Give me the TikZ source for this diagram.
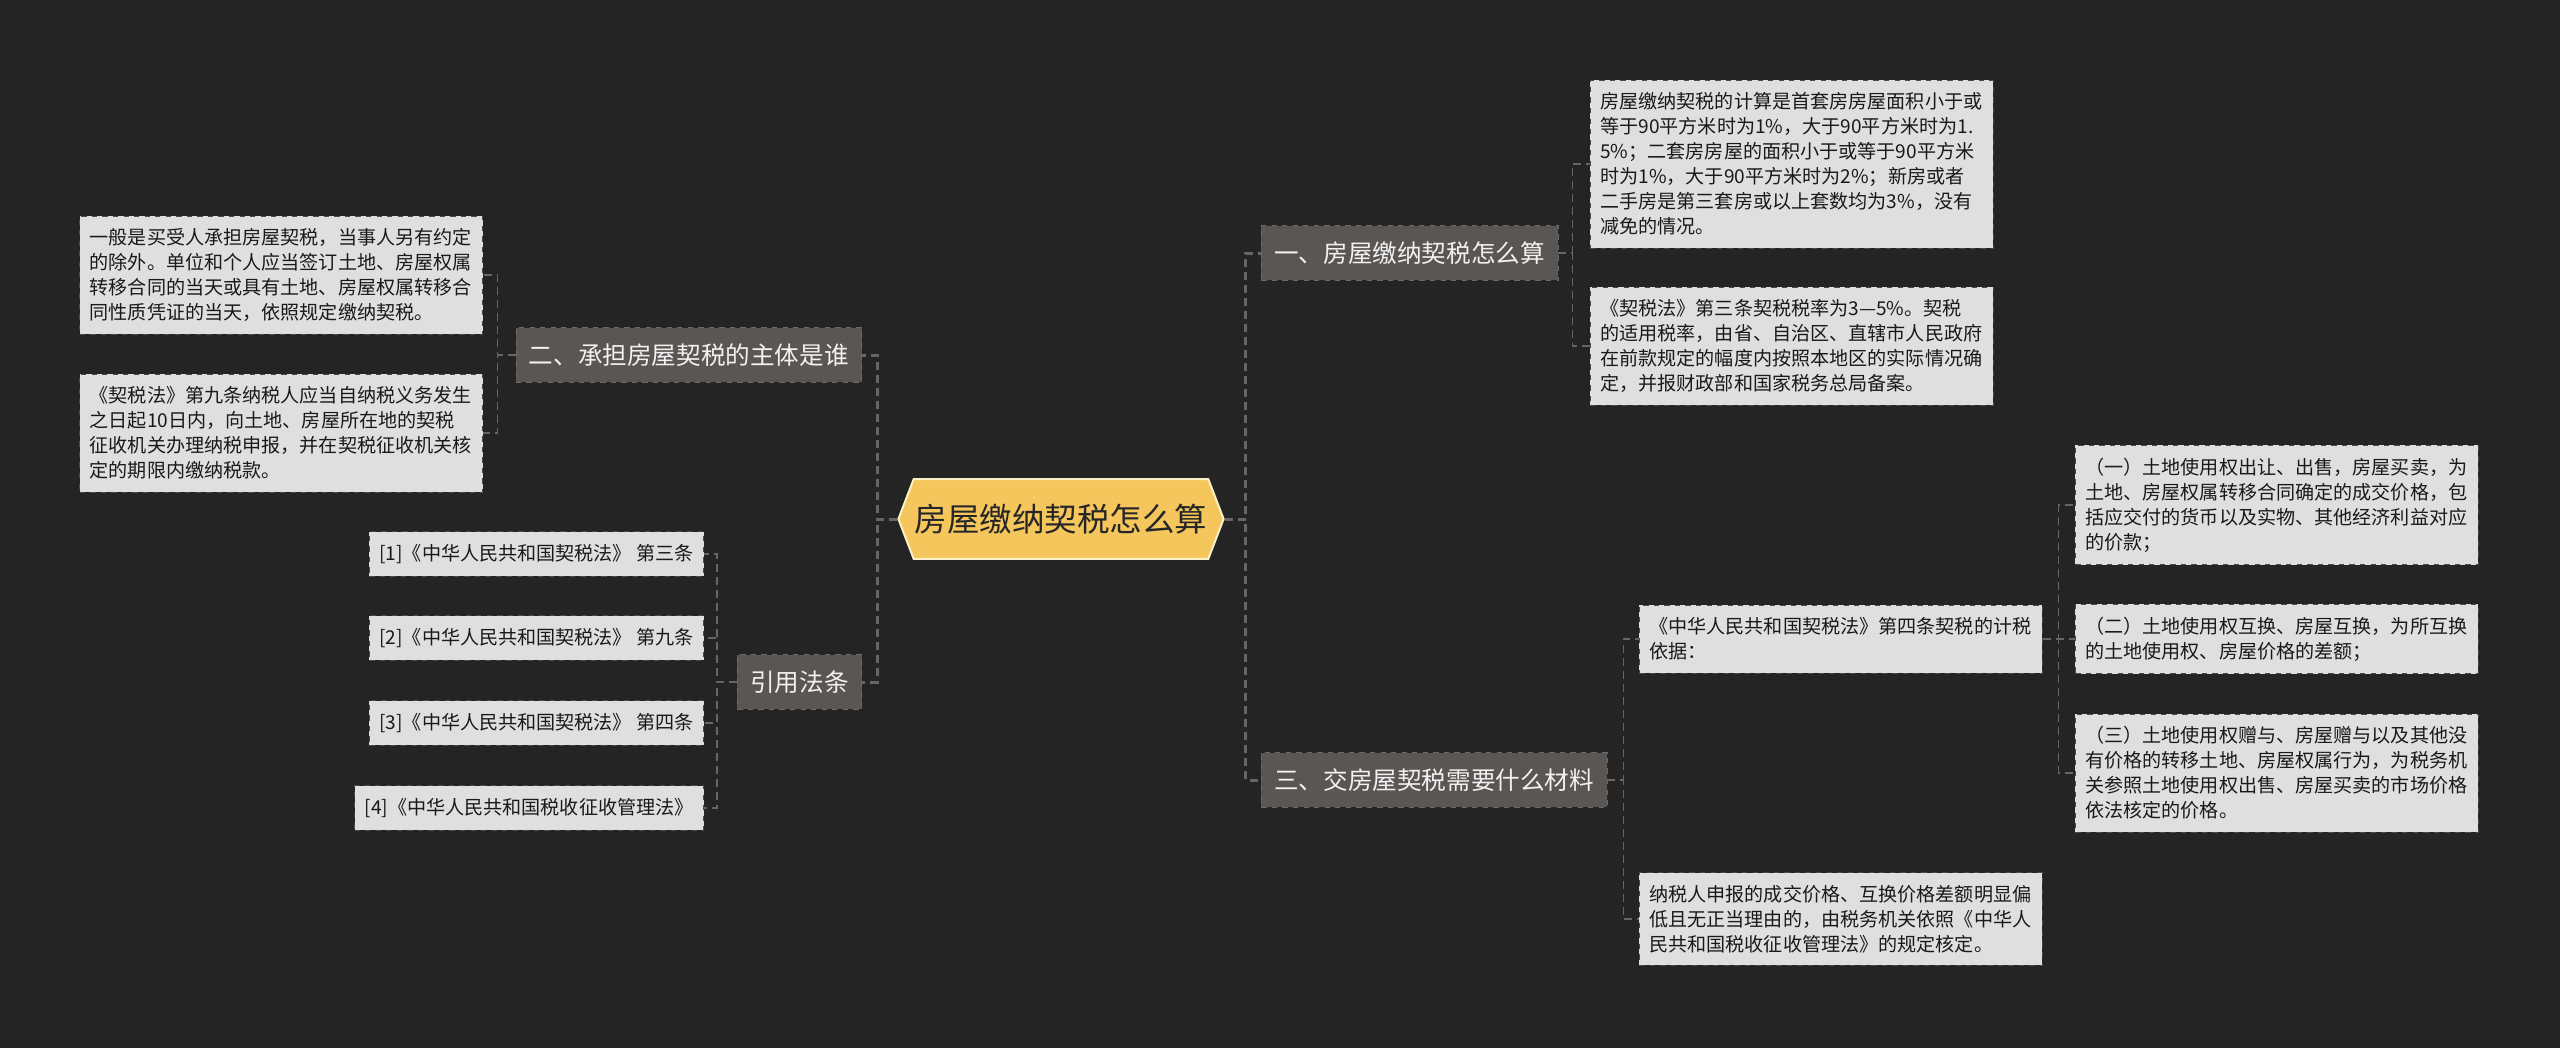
\documentclass[tikz,border=0pt]{standalone}
\usepackage{fontspec}
\newfontfamily\cjk{Noto Sans CJK SC}
\usetikzlibrary{shapes.symbols}

\definecolor{canvas}{HTML}{242424}
\definecolor{rootfill}{HTML}{F4C65B}
\definecolor{rootline}{HTML}{FBF0C8}
\definecolor{branchfill}{HTML}{5A5654}
\definecolor{branchline}{HTML}{6E6A67}
\definecolor{leaffill}{HTML}{DFDFDF}
\definecolor{leafline}{HTML}{4A4A4A}
\definecolor{linkgray}{HTML}{666666}

\begin{document}
\begin{tikzpicture}[
    x=0.02cm, y=-0.02cm,
    root/.style={
        signal, signal to=east and west, signal pointer angle=138,
        fill=rootfill, draw=rootline, line width=0.04cm,
        minimum height=1.6cm, inner xsep=0.02cm, text=black!85,
        font=\cjk\fontsize{18.5pt}{20pt}\selectfont
    },
    branch/.style={
        rectangle, fill=branchfill, draw=branchline, dashed,
        inner xsep=0.26cm, inner ysep=0.32cm, text=white!95!black,
        font=\cjk\fontsize{14pt}{16pt}\selectfont
    },
    leaf/.style={
        rectangle, fill=leaffill, draw=leafline, dashed,
        text width=7.66cm, align=left, inner xsep=0.2cm, inner ysep=0.25cm,
        text=black!90, font=\cjk\fontsize{10.87pt}{14.23pt}\selectfont
    },
    cite/.style={
        rectangle, fill=leaffill, draw=leafline, dashed,
        inner xsep=0.2cm, inner ysep=0.25cm,
        text=black!90, font=\cjk\fontsize{10.87pt}{14.23pt}\selectfont
    },
    trunk/.style={draw=linkgray, line width=0.06cm, dash pattern=on 0.16cm off 0.1cm},
    twig/.style={draw=linkgray, line width=0.03cm, dash pattern=on 0.16cm off 0.1cm}
]

\fill[canvas] (0,0) rectangle (2560,1048);
\useasboundingbox (0,0) rectangle (2560,1048);

% centre
\node[root] (root) at (1061,519) {房屋缴纳契税怎么算};

% first level
\node[branch, anchor=west] (calc)  at (1261,253) {一、房屋缴纳契税怎么算};
\node[branch, anchor=west] (docs)  at (1261,780) {三、交房屋契税需要什么材料};
\node[branch, anchor=east] (payer) at (862,355)  {二、承担房屋契税的主体是谁};
\node[branch, anchor=east] (laws)  at (862,682)  {引用法条};

% who pays
\node[leaf, anchor=east] (payer1) at (483,275) {一般是买受人承担房屋契税，当事人另有约定\\的除外。单位和个人应当签订土地、房屋权属\\转移合同的当天或具有土地、房屋权属转移合\\同性质凭证的当天，依照规定缴纳契税。};
\node[leaf, anchor=east] (payer2) at (483,433) {《契税法》第九条纳税人应当自纳税义务发生\\之日起10日内，向土地、房屋所在地的契税\\征收机关办理纳税申报，并在契税征收机关核\\定的期限内缴纳税款。};

% citations
\node[cite, anchor=east] (law1) at (704,554) {[1]《中华人民共和国契税法》 第三条};
\node[cite, anchor=east] (law2) at (704,638) {[2]《中华人民共和国契税法》 第九条};
\node[cite, anchor=east] (law3) at (704,723) {[3]《中华人民共和国契税法》 第四条};
\node[cite, anchor=east] (law4) at (704,808) {[4]《中华人民共和国税收征收管理法》};

% how to calculate
\node[leaf, anchor=west] (calc1) at (1590,164) {房屋缴纳契税的计算是首套房房屋面积小于或\\等于90平方米时为1\%，大于90平方米时为1.\\5\%；二套房房屋的面积小于或等于90平方米\\时为1\%，大于90平方米时为2\%；新房或者\\二手房是第三套房或以上套数均为3\%，没有\\减免的情况。};
\node[leaf, anchor=west] (calc2) at (1590,346) {《契税法》第三条契税税率为3—5\%。契税\\的适用税率，由省、自治区、直辖市人民政府\\在前款规定的幅度内按照本地区的实际情况确\\定，并报财政部和国家税务总局备案。};

% materials
\node[leaf, anchor=west] (basis) at (1639,639) {《中华人民共和国契税法》第四条契税的计税\\依据：};
\node[leaf, anchor=west] (check) at (1639,919) {纳税人申报的成交价格、互换价格差额明显偏\\低且无正当理由的，由税务机关依照《中华人\\民共和国税收征收管理法》的规定核定。};

\node[leaf, anchor=west] (basis1) at (2075,505) {（一）土地使用权出让、出售，房屋买卖，为\\土地、房屋权属转移合同确定的成交价格，包\\括应交付的货币以及实物、其他经济利益对应\\的价款；};
\node[leaf, anchor=west] (basis2) at (2075,639) {（二）土地使用权互换、房屋互换，为所互换\\的土地使用权、房屋价格的差额；};
\node[leaf, anchor=west] (basis3) at (2075,773) {（三）土地使用权赠与、房屋赠与以及其他没\\有价格的转移土地、房屋权属行为，为税务机\\关参照土地使用权出售、房屋买卖的市场价格\\依法核定的价格。};

% connectors
\foreach \b in {calc,docs}
    \draw[trunk] (root.east) -- ++(21,0) |- (\b.west);
\foreach \b in {payer,laws}
    \draw[trunk] (root.west) -- ++(-20,0) |- (\b.east);

\foreach \t in {payer1,payer2}
    \draw[twig] (payer.west) -- ++(-18,0) |- (\t.east);
\foreach \t in {law1,law2,law3,law4}
    \draw[twig] (laws.west) -- ++(-20,0) |- (\t.east);
\foreach \t in {calc1,calc2}
    \draw[twig] (calc.east) -- ++(14,0) |- (\t.west);
\foreach \t in {basis,check}
    \draw[twig] (docs.east) -- ++(16,0) |- (\t.west);
\foreach \t in {basis1,basis2,basis3}
    \draw[twig] (basis.east) -- ++(16,0) |- (\t.west);

\end{tikzpicture}
\end{document}
